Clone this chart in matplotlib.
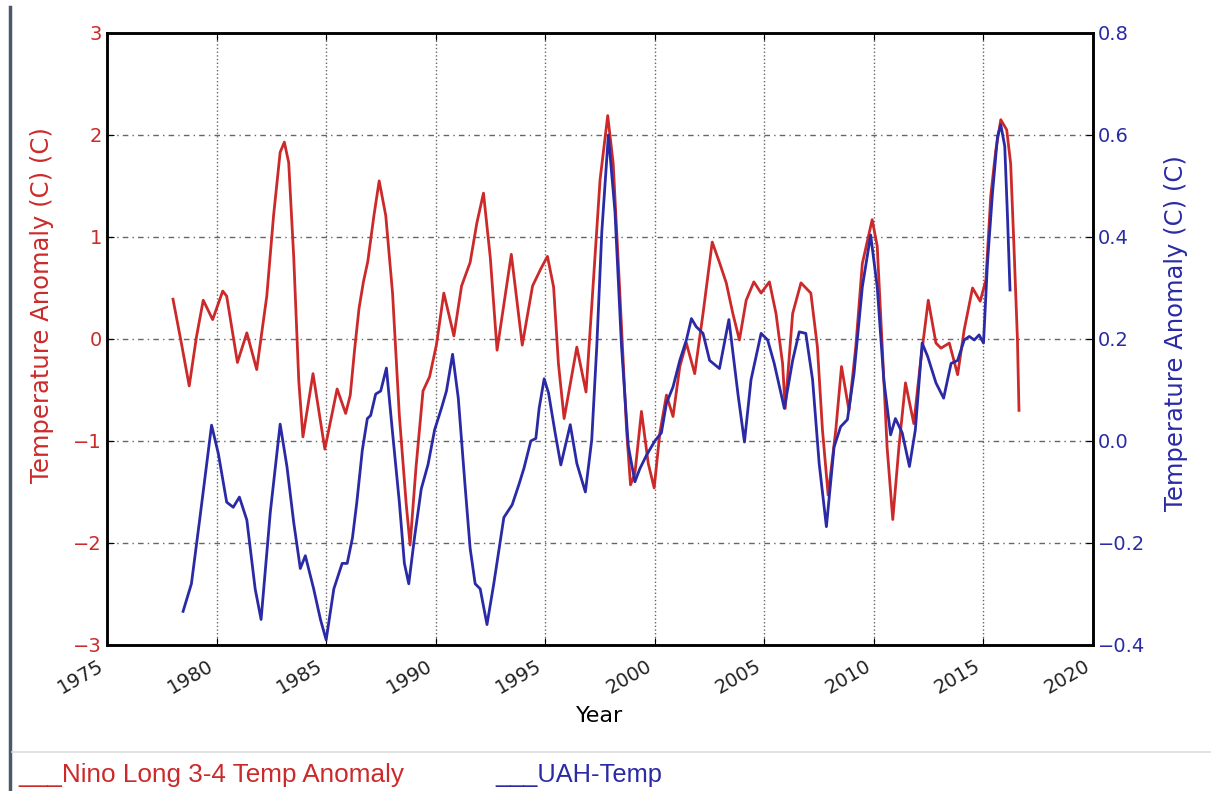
import matplotlib
matplotlib.use('Agg')
import matplotlib.pyplot as plt
from matplotlib.lines import Line2D

# Nino Long 3-4 anomaly (left axis)
nino_ano = [1978.01, 1978.40, 1978.75, 1979.08, 1979.39, 1979.82, 1980.28, 1980.46,
            1980.95, 1981.38, 1981.83, 1982.29, 1982.60, 1982.90, 1983.09, 1983.29,
            1983.52, 1983.75, 1983.94, 1984.40, 1984.94, 1985.50, 1985.89, 1986.10,
            1986.30, 1986.50, 1986.70, 1986.90, 1987.18, 1987.42, 1987.72, 1988.03,
            1988.34, 1988.65, 1988.83, 1989.10, 1989.42, 1989.72, 1990.03, 1990.37,
            1990.83, 1991.18, 1991.57, 1991.88, 1992.18, 1992.49, 1992.80, 1993.45,
            1993.95, 1994.42, 1994.80, 1995.10, 1995.38, 1995.60, 1995.86, 1996.44,
            1996.86, 1997.20, 1997.50, 1997.85, 1998.10, 1998.41, 1998.71, 1998.89,
            1999.09, 1999.39, 1999.70, 1999.97, 2000.23, 2000.53, 2000.83, 2001.14,
            2001.44, 2001.82, 2002.20, 2002.62, 2002.95, 2003.26, 2003.56, 2003.86,
            2004.17, 2004.52, 2004.85, 2005.23, 2005.53, 2005.83, 2005.95, 2006.29,
            2006.67, 2007.12, 2007.42, 2007.65, 2007.91, 2008.26, 2008.52, 2008.86,
            2009.17, 2009.47, 2009.92, 2010.15, 2010.38, 2010.60, 2010.86, 2011.14,
            2011.44, 2011.82, 2012.12, 2012.48, 2012.83, 2013.06, 2013.44, 2013.82,
            2014.12, 2014.50, 2014.85, 2015.11, 2015.33, 2015.56, 2015.79, 2016.06,
            2016.24, 2016.39, 2016.55, 2016.62]
nino_val = [0.39, -0.05, -0.46, 0.02, 0.38, 0.19, 0.47, 0.42,
            -0.23, 0.06, -0.30, 0.42, 1.21, 1.83, 1.93, 1.73,
            0.80, -0.41, -0.96, -0.34, -1.08, -0.49, -0.73, -0.55,
            -0.10, 0.30, 0.56, 0.76, 1.21, 1.55, 1.21, 0.45,
            -0.75, -1.61, -2.02, -1.26, -0.51, -0.37, -0.06, 0.45,
            0.03, 0.52, 0.75, 1.14, 1.43, 0.80, -0.11, 0.83,
            -0.06, 0.52, 0.69, 0.81, 0.51, -0.24, -0.78, -0.08,
            -0.52, 0.58, 1.56, 2.19, 1.72, 0.42, -0.89, -1.43,
            -1.32, -0.71, -1.22, -1.46, -0.92, -0.55, -0.76, -0.27,
            -0.04, -0.34, 0.25, 0.95, 0.75, 0.55, 0.25, -0.01,
            0.38, 0.56, 0.45, 0.56, 0.25, -0.24, -0.68, 0.25,
            0.55, 0.45, -0.08, -0.89, -1.53, -0.89, -0.27, -0.70,
            -0.08, 0.74, 1.17, 0.91, -0.08, -1.06, -1.77, -1.06,
            -0.43, -0.83, -0.24, 0.38, -0.04, -0.09, -0.04, -0.35,
            0.09, 0.50, 0.37, 0.58, 1.40, 1.85, 2.15, 2.05,
            1.72, 0.91, -0.01, -0.70]

# UAH temperature (right axis)
uah_ano = [1978.47, 1978.85, 1979.24, 1979.77, 1980.08, 1980.46, 1980.76, 1981.04,
           1981.38, 1981.76, 1982.03, 1982.45, 1982.90, 1983.21, 1983.52, 1983.82,
           1984.05, 1984.43, 1984.74, 1985.00, 1985.35, 1985.73, 1985.96, 1986.20,
           1986.40, 1986.65, 1986.88, 1987.03, 1987.26, 1987.49, 1987.75, 1988.03,
           1988.34, 1988.57, 1988.77, 1989.03, 1989.34, 1989.65, 1989.95, 1990.26,
           1990.49, 1990.77, 1991.03, 1991.34, 1991.57, 1991.80, 1992.03, 1992.34,
           1992.65, 1993.11, 1993.49, 1993.80, 1994.03, 1994.34, 1994.57, 1994.72,
           1994.95, 1995.15, 1995.45, 1995.71, 1996.14, 1996.44, 1996.83, 1997.12,
           1997.35, 1997.58, 1997.88, 1998.18, 1998.48, 1998.79, 1999.09, 1999.32,
           1999.62, 2000.00, 2000.30, 2000.53, 2000.83, 2001.14, 2001.44, 2001.67,
           2001.89, 2002.20, 2002.50, 2002.95, 2003.38, 2003.64, 2003.80, 2004.09,
           2004.39, 2004.85, 2005.15, 2005.45, 2005.91, 2006.29, 2006.59, 2006.89,
           2007.20, 2007.50, 2007.83, 2008.18, 2008.48, 2008.79, 2009.09, 2009.47,
           2009.85, 2010.15, 2010.45, 2010.76, 2010.98, 2011.29, 2011.62, 2011.89,
           2012.20, 2012.45, 2012.83, 2013.18, 2013.52, 2013.82, 2014.12, 2014.35,
           2014.58, 2014.80, 2015.00, 2015.18, 2015.41, 2015.64, 2015.79, 2015.97,
           2016.09, 2016.21]
uah_val = [-0.334, -0.28, -0.15, 0.031, -0.025, -0.12, -0.13, -0.11,
           -0.155, -0.29, -0.35, -0.14, 0.033, -0.05, -0.16, -0.25,
           -0.225, -0.29, -0.35, -0.39, -0.29, -0.24, -0.24, -0.19,
           -0.12, -0.018, 0.044, 0.05, 0.092, 0.098, 0.143, 0.016,
           -0.12, -0.24, -0.28, -0.19, -0.094, -0.046, 0.022, 0.064,
           0.098, 0.17, 0.084, -0.088, -0.21, -0.28, -0.29, -0.36,
           -0.28, -0.15, -0.125, -0.085, -0.053, 0.0, 0.005, 0.064,
           0.122, 0.094, 0.016, -0.047, 0.032, -0.044, -0.10, 0.002,
           0.185, 0.41, 0.60, 0.45, 0.185, -0.01, -0.08, -0.054,
           -0.028, 0.0, 0.016, 0.074, 0.106, 0.158, 0.198, 0.24,
           0.224, 0.211, 0.158, 0.142, 0.238, 0.146, 0.09, -0.002,
           0.12, 0.211, 0.198, 0.152, 0.064, 0.158, 0.214, 0.211,
           0.12, -0.044, -0.168, -0.012, 0.028, 0.042, 0.132, 0.302,
           0.404, 0.302, 0.12, 0.012, 0.044, 0.016, -0.05, 0.022,
           0.192, 0.166, 0.114, 0.084, 0.152, 0.158, 0.198, 0.205,
           0.198, 0.208, 0.192, 0.348, 0.486, 0.597, 0.62, 0.578,
           0.446, 0.296]

x_ticks = [1975, 1980, 1985, 1990, 1995, 2000, 2005, 2010, 2015, 2020]
left_ticks = [-3, -2, -1, 0, 1, 2, 3]
right_ticks = [-0.4, -0.2, 0.0, 0.2, 0.4, 0.6, 0.8]

red = '#cc2a2a'
blue = '#2a2aa6'

fig = plt.figure(figsize=(12.11, 7.91), dpi=100)
ax = fig.add_axes([0.0884, 0.1846, 0.8142, 0.7737])
ax2 = ax.twinx()

ax.plot(nino_ano, nino_val, color=red, lw=2.0, solid_joinstyle='round')
ax2.plot(uah_ano, uah_val, color=blue, lw=2.0, solid_joinstyle='round')

ax.set_xlim(1975, 2020)
ax.set_ylim(-3, 3)
ax2.set_ylim(-0.4, 0.8)
ax.set_xticks(x_ticks)
ax.set_yticks(left_ticks)
ax2.set_yticks(right_ticks)
ax.set_yticklabels([str(t).replace('-', '\u2212') for t in left_ticks])
ax2.set_yticklabels([('%.1f' % t).replace('-', '\u2212') for t in right_ticks])

# grid: vertical dotted, horizontal dash-dot
ax.xaxis.grid(True, color='#666666', linestyle=':', lw=1.0)
ax.yaxis.grid(True, color='#666666', linestyle=(0, (4, 3, 1, 3)), lw=1.0)

for a in (ax, ax2):
    for s in a.spines.values():
        s.set_linewidth(1.8)
        s.set_color('black')
ax.tick_params(axis='x', direction='in', top=True, length=5, labelsize=14, labelcolor='#222222', pad=8)
ax.tick_params(axis='y', direction='in', length=5, labelsize=14, labelcolor=red)
ax2.tick_params(axis='y', direction='in', length=5, labelsize=14, labelcolor=blue)
for lab in ax.get_xticklabels():
    lab.set_rotation(30)
    lab.set_ha('right')

ax.set_xlabel('Year', fontsize=16, labelpad=6)
ax.set_ylabel('Temperature Anomaly (C) (C)', fontsize=17.5, color=red)
ax2.set_ylabel('Temperature Anomaly (C) (C)', fontsize=17.5, color=blue)
ax.yaxis.set_label_coords(-0.054, 0.555)
ax2.yaxis.set_label_coords(1.072, 0.51)

# page decorations around the chart
fig.add_artist(Line2D([0.0083, 0.0083], [0.0, 0.991], color='#4a5868', lw=2.5))
fig.add_artist(Line2D([0.0099, 1.0], [0.049, 0.049], color='#dddddd', lw=1.2))
fig.text(0.015, 0.012, '___Nino Long 3-4 Temp Anomaly', color=red, fontsize=18.8,
         family='Liberation Sans', va='baseline')
fig.text(0.409, 0.012, '___UAH-Temp', color=blue, fontsize=18.3,
         family='Liberation Sans', va='baseline')

fig.savefig('out.png', dpi=100)
